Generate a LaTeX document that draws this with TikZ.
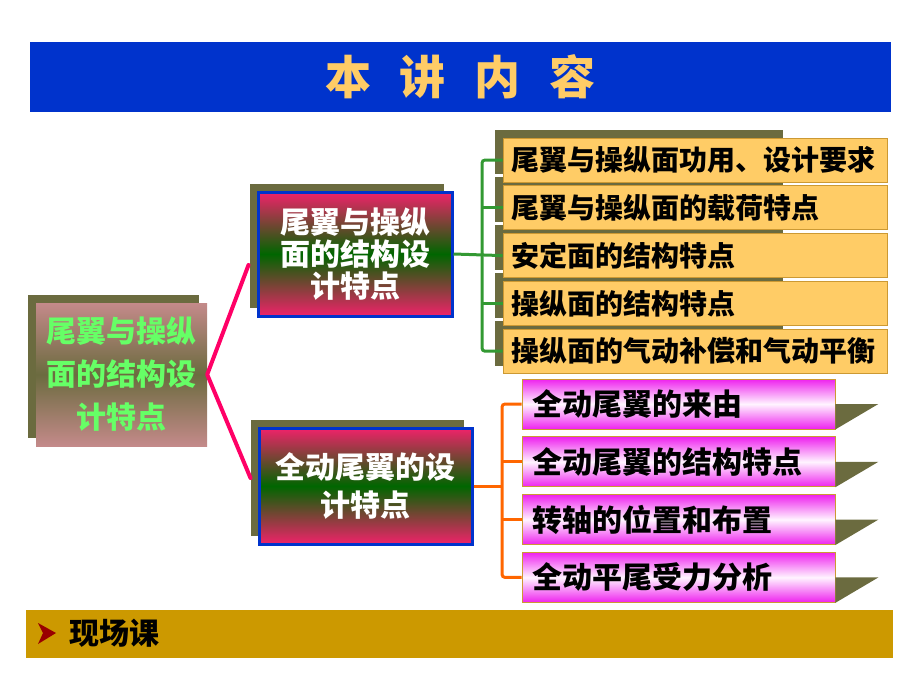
\documentclass[tikz,border=0pt]{standalone}
\usepackage{fontspec}
\setmainfont{Noto Sans CJK SC}
\usetikzlibrary{%
	positioning,
	calc,
	shadows,
	backgrounds
}
\definecolor{barblue}{HTML}{0033CC}
\definecolor{titlegold}{HTML}{FFCC66}
\definecolor{shadowolive}{HTML}{6B6B3F}
\definecolor{rootrose}{HTML}{C48A8A}
\definecolor{rootgreen}{HTML}{66FF66}
\definecolor{midred}{HTML}{F0226A}
\definecolor{midgreen}{HTML}{006600}
\definecolor{boxorange}{HTML}{FFCC66}
\definecolor{boxedge}{HTML}{CC9933}
\definecolor{boxmagenta}{HTML}{EE22EE}
\definecolor{boxpale}{HTML}{FFF4FF}
\definecolor{treegreen}{HTML}{339933}
\definecolor{treeorange}{HTML}{FF6600}
\definecolor{linkpink}{HTML}{FF0066}
\definecolor{bargold}{HTML}{CC9900}
\definecolor{bulletred}{HTML}{990000}

\begin{document}
\begin{tikzpicture}[x=1pt,y=-1pt,
		SRoot/.style={shape=rectangle,minimum width=171pt,minimum height=143pt,inner sep=0pt,align=center,
			top color=rootrose,bottom color=rootrose,middle color=shadowolive,text=rootgreen,
			font=\fontsize{30}{43}\selectfont\bfseries,
			drop shadow={shadow xshift=-8pt,shadow yshift=8pt,fill=shadowolive,opacity=1}},
		SMid/.style={shape=rectangle,draw=barblue,line width=3pt,inner sep=0pt,align=center,
			top color=midred,bottom color=midred,middle color=midgreen,text=white,
			drop shadow={shadow xshift=-8pt,shadow yshift=8pt,fill=shadowolive,opacity=1}},
		SLoad/.style={shape=rectangle,draw=boxedge,line width=.8pt,fill=boxorange,text width=368pt,inner xsep=8pt,
			minimum height=44pt,align=left,font=\fontsize{28}{30}\selectfont\bfseries},
		SMove/.style={shape=rectangle,draw=boxedge,line width=.8pt,top color=boxmagenta,bottom color=boxmagenta,
			middle color=boxpale,text width=293pt,inner xsep=10pt,minimum height=50pt,align=left,
			font=\fontsize{30}{32}\selectfont\bfseries},
		greenline/.style={draw=treegreen,line width=3pt,rounded corners=3pt},
		orangeline/.style={draw=treeorange,line width=3pt,rounded corners=3pt},
		pinkline/.style={draw=linkpink,line width=4pt,line join=round,line cap=round},
		outside/.style={fill=shadowolive}
	]
	\useasboundingbox (0,0) rectangle (920,690);
	
	%title
	\node(titlebar) [fill=barblue,minimum width=861pt,minimum height=70pt,inner sep=0pt,text=titlegold,
		font=\fontsize{46}{46}\selectfont\bfseries] at (460.5,77) {本\hspace{29pt}讲\hspace{29pt}内\hspace{29pt}容};
	
	%root
	\node(root) [SRoot] at (121.5,374.5) {尾翼与操纵\\面的结构设\\计特点};
	
	%mid nodes
	\node(midA) [SMid,minimum width=194pt,minimum height=124pt,font=\fontsize{30}{32}\selectfont\bfseries] at (355,254) {尾翼与操纵\\面的结构设\\计特点};
	\node(midB) [SMid,minimum width=213pt,minimum height=116pt,font=\fontsize{30}{38}\selectfont\bfseries] at (365.5,486) {全动尾翼的设\\计特点};
	
	%tail surfaces
	\node(ob1) [SLoad] at (695,160) {尾翼与操纵面功用、设计要求};
	\node(ob2) [SLoad,below=3pt of ob1] {尾翼与操纵面的载荷特点};
	\node(ob3) [SLoad,below=3pt of ob2] {安定面的结构特点};
	\node(ob4) [SLoad,below=3pt of ob3] {操纵面的结构特点};
	\node(ob5) [SLoad,below=3pt of ob4] {操纵面的气动补偿和气动平衡};
	\begin{pgfonlayer}{background}
		\fill[outside] ($(ob1.north west)+(-8,-8)$) rectangle ($(ob1.south west)+(280,-8)$);
		\fill[outside] ($(ob2.north west)+(-8,-8)$) rectangle ($(ob2.south west)+(280,-8)$);
		\fill[outside] ($(ob3.north west)+(-8,-8)$) rectangle ($(ob3.south west)+(280,-8)$);
		\fill[outside] ($(ob4.north west)+(-8,-8)$) rectangle ($(ob4.south west)+(280,-8)$);
		\fill[outside] ($(ob5.north west)+(-8,-8)$) rectangle ($(ob5.south west)+(280,-8)$);
	\end{pgfonlayer}
	
	%all-moving tail
	\node(mb1) [SMove] at (678.5,404) {全动尾翼的来由};
	\node(mb2) [SMove,below=7pt of mb1] {全动尾翼的结构特点};
	\node(mb3) [SMove,below=7pt of mb2] {转轴的位置和布置};
	\node(mb4) [SMove,below=7pt of mb3] {全动平尾受力分析};
	\fill[outside] (mb1.east) -- ++(43,0) -- (mb1.south east) -- cycle;
	\fill[outside] (mb2.east) -- ++(43,0) -- (mb2.south east) -- cycle;
	\fill[outside] (mb3.east) -- ++(43,0) -- (mb3.south east) -- cycle;
	\fill[outside] (mb4.east) -- ++(43,0) -- (mb4.south east) -- cycle;
	
	%links
	\coordinate(gtrunk) at (482,254);
	\coordinate(otrunk) at (502,486);
	\draw [pinkline] ($(midA.west)+(-8,11)$) -- (root.east) -- ($(midB.west)+(-7,-8)$);
	\draw [greenline] (ob1.west) -- (ob1.west -| gtrunk) -- (ob5.west -| gtrunk) -- (ob5.west);
	\draw [greenline] (ob2.west) -- (ob2.west -| gtrunk);
	\draw [greenline] (ob4.west) -- (ob4.west -| gtrunk);
	\draw [greenline] (midA.east) -- (ob3.west);
	\draw [orangeline] (mb1.west) -- (mb1.west -| otrunk) -- (mb4.west -| otrunk) -- (mb4.west);
	\draw [orangeline] (mb2.west) -- (mb2.west -| otrunk);
	\draw [orangeline] (mb3.west) -- (mb3.west -| otrunk);
	\draw [orangeline] (midB.east) -- (midB.east -| otrunk);
	
	%field lesson
	\node(bar) [fill=bargold,minimum width=867pt,minimum height=48pt,inner sep=0pt] at (459.5,634) {};
	\fill[bulletred] (38,623) -- (56,633) -- (38,644) -- (43,633) -- cycle;
	\node(field) [anchor=west,inner sep=0pt,font=\fontsize{30}{30}\selectfont\bfseries] at (69,633) {现场课};
	
\end{tikzpicture}
\end{document}
